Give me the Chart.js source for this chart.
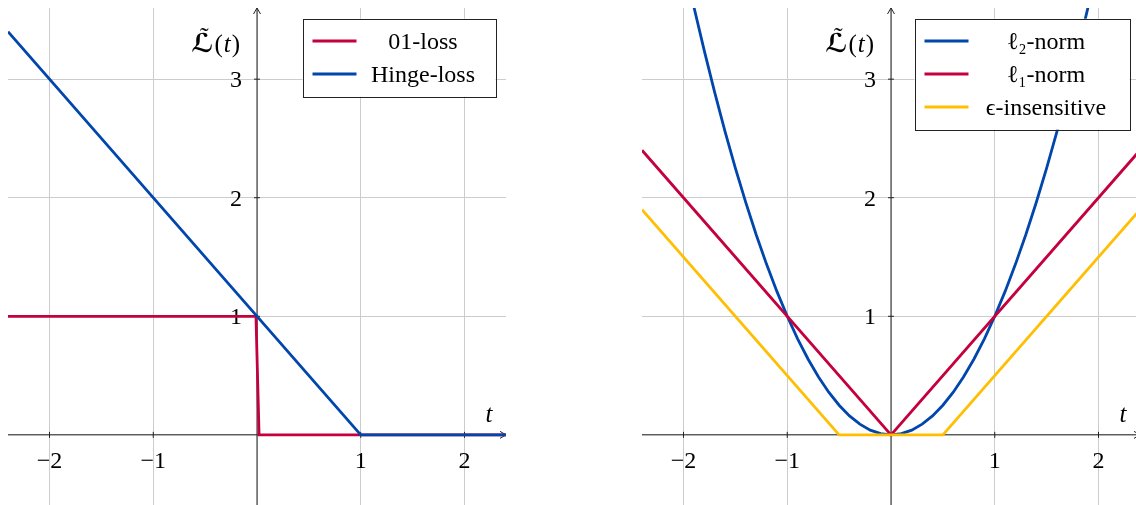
<!DOCTYPE html>
<html>
<head>
<meta charset="utf-8">
<script src="https://cdn.jsdelivr.net/npm/chart.js@4.4.1/dist/chart.umd.min.js"></script>
<style>
  html, body { margin: 0; padding: 0; background: #fff; }
  #wrap { position: relative; width: 1136px; height: 505px; overflow: hidden; }
  canvas { position: absolute; top: 0; }
  #leftChart { left: 0; }
  #rightChart { left: 568px; }
</style>
</head>
<body>
<div id="wrap">
  <canvas id="leftChart" width="568" height="520"></canvas>
  <canvas id="rightChart" width="600" height="520"></canvas>
</div>
<script>
const xTicks = [-2, -1, 1, 2];
const yTicks = [1, 2, 3];

// left panel
const zeroOneT = [-2.4, -0.01, 0.02, 2.4];
const zeroOneLoss = [1, 1, 0, 0];
const hingeT = [-2.4, 1, 2.4];
const hingeLoss = [3.4, 0, 0];

// right panel
const l2T = [-2.0, -1.9, -1.8, -1.7, -1.6, -1.5, -1.4, -1.3, -1.2, -1.1, -1.0,
  -0.9, -0.8, -0.7, -0.6, -0.5, -0.4, -0.3, -0.2, -0.1, 0,
  0.1, 0.2, 0.3, 0.4, 0.5, 0.6, 0.7, 0.8, 0.9, 1.0,
  1.1, 1.2, 1.3, 1.4, 1.5, 1.6, 1.7, 1.8, 1.9, 2.0];
const l2Loss = [4.0, 3.61, 3.24, 2.89, 2.56, 2.25, 1.96, 1.69, 1.44, 1.21, 1.0,
  0.81, 0.64, 0.49, 0.36, 0.25, 0.16, 0.09, 0.04, 0.01, 0,
  0.01, 0.04, 0.09, 0.16, 0.25, 0.36, 0.49, 0.64, 0.81, 1.0,
  1.21, 1.44, 1.69, 1.96, 2.25, 2.56, 2.89, 3.24, 3.61, 4.0];
const l1T = [-2.4, 0, 2.4];
const l1Loss = [2.4, 0, 2.4];
const epsT = [-2.4, -0.5, 0.5, 2.4];
const epsLoss = [1.9, 0, 0, 1.9];

const BLUE = "#0046ad";
const RED = "#c5003e";
const YELLOW = "#ffbf00";
const SERIF = '"Liberation Serif", "DejaVu Serif", serif';

function points(xs, ys) {
  return xs.map((x, i) => ({ x: x, y: ys[i] }));
}

function series(label, xs, ys, color, order) {
  return {
    label: label,
    data: points(xs, ys),
    borderColor: color,
    backgroundColor: color,
    borderWidth: 2.8,
    showLine: true,
    pointRadius: 0,
    tension: 0,
    order: order,
  };
}

function drawYLabel(ctx, right, base) {
  const parts = [
    { s: "\u2112", f: "bold 26px \"DejaVu Sans\", sans-serif" },
    { s: "(", f: "25px " + SERIF },
    { s: "t", f: "italic 25px " + SERIF },
    { s: ")", f: "25px " + SERIF },
  ];
  let w = 0;
  parts.forEach((p) => {
    ctx.font = p.f;
    p.w = ctx.measureText(p.s).width;
    w += p.w + 1;
  });
  let x = right - w;
  ctx.textAlign = "left";
  ctx.textBaseline = "alphabetic";
  parts.forEach((p, i) => {
    ctx.font = p.f;
    ctx.fillText(p.s, x, base);
    if (i === 0) {
      // tilde over the L
      ctx.font = "26px " + SERIF;
      ctx.textAlign = "center";
      ctx.fillText("\u02dc", x + p.w / 2 + 2, base - 7);
      ctx.textAlign = "left";
    }
    x += p.w + 1;
  });
}

// axes through the origin, ticks, labels and the boxed legend
function overlay(legendW) {
  return {
    id: "overlay",
    beforeDatasetsDraw(chart) {
      const { ctx, chartArea: a, scales: { x, y } } = chart;
      const x0 = x.getPixelForValue(0);
      const y0 = y.getPixelForValue(0);
      ctx.save();
      ctx.strokeStyle = "#222";
      ctx.lineWidth = 1;
      ctx.beginPath();
      ctx.moveTo(a.left, y0);
      ctx.lineTo(a.right, y0);
      ctx.moveTo(x0, a.bottom);
      ctx.lineTo(x0, a.top);
      // arrow heads
      ctx.moveTo(a.right - 6, y0 - 3.5);
      ctx.lineTo(a.right, y0);
      ctx.lineTo(a.right - 6, y0 + 3.5);
      ctx.moveTo(x0 - 3.5, a.top + 6);
      ctx.lineTo(x0, a.top);
      ctx.lineTo(x0 + 3.5, a.top + 6);
      // tick marks
      xTicks.forEach((v) => {
        const px = x.getPixelForValue(v);
        ctx.moveTo(px, y0 - 3);
        ctx.lineTo(px, y0 + 3);
      });
      yTicks.forEach((v) => {
        const py = y.getPixelForValue(v);
        ctx.moveTo(x0 - 3, py);
        ctx.lineTo(x0 + 3, py);
      });
      ctx.stroke();

      ctx.fillStyle = "#000";
      ctx.font = "24px " + SERIF;
      ctx.textBaseline = "alphabetic";
      ctx.textAlign = "center";
      xTicks.forEach((v) => {
        const txt = v < 0 ? "\u2212" + Math.abs(v) : String(v);
        ctx.fillText(txt, x.getPixelForValue(v), y0 + 33);
      });
      ctx.textAlign = "right";
      yTicks.forEach((v) => {
        ctx.fillText(String(v), x0 - 15, y.getPixelForValue(v) + 8);
      });

      ctx.textAlign = "center";
      ctx.font = "italic 25px " + SERIF;
      ctx.fillText("t", a.right - 17, y0 - 13);
      drawYLabel(ctx, x0 - 16, a.top + 44);
      ctx.restore();
    },
    afterDatasetsDraw(chart) {
      const { ctx, chartArea: a } = chart;
      const sets = chart.data.datasets;
      const rowH = 33;
      const h = 12 + rowH * sets.length;
      const left = a.right - 10.5 - legendW;
      const top = a.top + 10.7;
      ctx.save();
      ctx.fillStyle = "#fff";
      ctx.fillRect(left, top, legendW, h);
      ctx.strokeStyle = "#222";
      ctx.lineWidth = 1;
      ctx.strokeRect(Math.round(left) + 0.5, Math.round(top) + 0.5, legendW, h);
      const textCenter = left + 62 + (legendW - 76) / 2;
      ctx.font = "24px " + SERIF;
      ctx.textAlign = "center";
      ctx.textBaseline = "alphabetic";
      sets.forEach((ds, i) => {
        const cy = top + 22.3 + i * rowH;
        ctx.strokeStyle = ds.borderColor;
        ctx.lineWidth = 2.8;
        ctx.beginPath();
        ctx.moveTo(left + 10, cy);
        ctx.lineTo(left + 54, cy);
        ctx.stroke();
        ctx.fillStyle = "#000";
        ctx.fillText(ds.label, textCenter, cy + 7.5);
      });
      ctx.restore();
    },
  };
}

function makeChart(id, datasets, padding, legendW) {
  const axis = (min, max) => ({
    type: "linear",
    min: min,
    max: max,
    ticks: { display: false, stepSize: 1, includeBounds: false },
    grid: { color: "#cccccc", lineWidth: 1, drawTicks: false },
    border: { display: false },
  });
  return new Chart(document.getElementById(id), {
    type: "scatter",
    data: { datasets: datasets },
    options: {
      responsive: false,
      animation: false,
      events: [],
      layout: { padding: padding },
      plugins: { legend: { display: false }, tooltip: { enabled: false } },
      scales: { x: axis(-2.4, 2.4), y: axis(-0.6, 3.6) },
    },
    plugins: [overlay(legendW)],
  });
}

makeChart("leftChart", [
  series("01-loss", zeroOneT, zeroOneLoss, RED, 2),
  series("Hinge-loss", hingeT, hingeLoss, BLUE, 1),
], { left: 8, right: 62, top: 8, bottom: 14 }, 193);

makeChart("rightChart", [
  series("\u2113\u2082-norm", l2T, l2Loss, BLUE, 3),
  series("\u2113\u2081-norm", l1T, l1Loss, RED, 2),
  series("\u03f5-insensitive", epsT, epsLoss, YELLOW, 1),
], { left: 74, right: 28, top: 8, bottom: 14 }, 215);
</script>
</body>
</html>
